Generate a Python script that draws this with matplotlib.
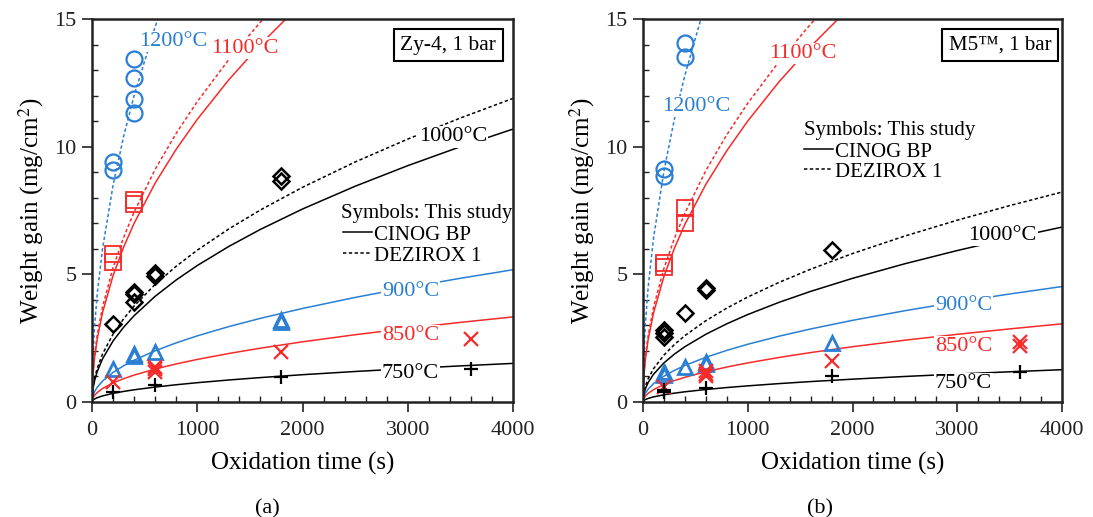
import matplotlib
matplotlib.use("Agg")
import matplotlib.pyplot as plt
from matplotlib.ticker import MultipleLocator
from matplotlib.transforms import ScaledTranslation

plt.rcParams['font.family'] = ['Liberation Serif', 'DejaVu Serif']
plt.rcParams['mathtext.fontset'] = 'stix'

BLUE = '#2a7fd4'
RED = '#f72a2a'

# ---------------- curve sample times (s) ----------------
T = [0, 10, 25, 50, 100, 200, 300, 400, 600, 800, 1000, 1300, 1600, 2000, 2500, 3000, 3500, 4000]

# ---------------- Zy-4 model curves (mg/cm2) ----------------
zy_750_cinog = [0, 0.076, 0.12, 0.169, 0.239, 0.338, 0.414, 0.478, 0.585, 0.676, 0.756, 0.862, 0.956, 1.069, 1.195, 1.309, 1.414, 1.512]
zy_850_cinog = [0, 0.167, 0.264, 0.373, 0.527, 0.745, 0.913, 1.054, 1.291, 1.491, 1.667, 1.900, 2.108, 2.357, 2.635, 2.887, 3.118, 3.333]
zy_900_cinog = [0, 0.259, 0.41, 0.579, 0.819, 1.158, 1.419, 1.638, 2.006, 2.316, 2.590, 2.953, 3.276, 3.663, 4.095, 4.486, 4.845, 5.180]
zy_1000_cinog = [0, 0.534, 0.845, 1.195, 1.69, 2.39, 2.927, 3.38, 4.14, 4.78, 5.344, 6.093, 6.76, 7.558, 8.45, 9.256, 9.998, 10.689]
zy_1000_dez = [0, 0.594, 0.94, 1.329, 1.88, 2.659, 3.256, 3.76, 4.605, 5.317, 5.945, 6.779, 7.52, 8.408, 9.4, 10.297, 11.122, 11.890]
zy_1100_cinog = [0, 1.107, 1.75, 2.475, 3.5, 4.95, 6.062, 7.0, 8.573, 9.9, 11.068, 12.62, 14.0, 15.652]
zy_1100_dez = [0, 1.176, 1.86, 2.63, 3.72, 5.261, 6.443, 7.44, 9.112, 10.522, 11.764, 13.413, 14.88, 16.636]
zy_1200_dez = [0, 1.897, 3.0, 4.243, 6.0, 8.485, 10.392, 12.0, 14.697, 16.97]

# ---------------- M5 model curves (mg/cm2) ----------------
m5_750_cinog = [0, 0.063, 0.1, 0.141, 0.2, 0.283, 0.346, 0.4, 0.49, 0.566, 0.632, 0.721, 0.8, 0.894, 1.0, 1.095, 1.183, 1.265]
m5_850_cinog = [0, 0.153, 0.242, 0.342, 0.484, 0.684, 0.838, 0.968, 1.186, 1.369, 1.531, 1.745, 1.936, 2.165, 2.42, 2.651, 2.863, 3.061]
m5_900_cinog = [0, 0.226, 0.358, 0.506, 0.715, 1.011, 1.238, 1.43, 1.751, 2.022, 2.261, 2.578, 2.86, 3.198, 3.575, 3.916, 4.23, 4.522]
m5_1000_cinog = [0, 0.342, 0.542, 0.766, 1.083, 1.532, 1.876, 2.166, 2.653, 3.063, 3.425, 3.905, 4.332, 4.843, 5.415, 5.932, 6.407, 6.85]
m5_1000_dez = [0, 0.411, 0.65, 0.919, 1.3, 1.838, 2.252, 2.6, 3.184, 3.677, 4.111, 4.687, 5.2, 5.814, 6.5, 7.12, 7.691, 8.222]
m5_1100_cinog = [0, 1.1, 1.74, 2.461, 3.48, 4.921, 6.028, 6.96, 8.524, 9.843, 11.005, 12.547, 13.92, 15.563]
m5_1100_dez = [0, 1.17, 1.85, 2.616, 3.7, 5.233, 6.409, 7.4, 9.063, 10.465, 11.7, 13.341, 14.8, 16.547]
m5_1200_dez = [0, 2.024, 3.2, 4.525, 6.4, 9.051, 11.085, 12.8, 15.677]

# ---------------- experimental points: Zy-4 ----------------
zy_1200_t = [200, 200, 400, 400, 400, 400]
zy_1200_w = [9.41, 9.09, 13.45, 12.7, 11.86, 11.3]
zy_1100_t = [200, 200, 400, 400]
zy_1100_w = [5.8, 5.5, 7.9, 7.75]
zy_1000_t = [200, 400, 400, 400, 600, 600, 1800, 1800]
zy_1000_w = [3.06, 4.32, 4.23, 3.93, 5.04, 4.93, 8.85, 8.65]
zy_900_t = [200, 400, 400, 600, 1800, 1800]
zy_900_w = [1.3, 1.8, 1.87, 1.95, 3.15, 3.22]
zy_850_t = [200, 600, 600, 600, 1800, 3600]
zy_850_w = [0.8, 1.38, 1.28, 1.19, 1.95, 2.45]
zy_750_t = [200, 600, 1800, 3600]
zy_750_w = [0.4, 0.65, 0.98, 1.3]

# ---------------- experimental points: M5 ----------------
m5_1200_t = [200, 200, 400, 400]
m5_1200_w = [9.11, 8.85, 14.05, 13.5]
m5_1100_t = [200, 200, 400, 400]
m5_1100_w = [5.45, 5.3, 7.59, 7.0]
m5_1000_t = [200, 200, 200, 400, 600, 600, 1800]
m5_1000_w = [2.82, 2.69, 2.56, 3.5, 4.39, 4.45, 5.95]
m5_900_t = [200, 200, 400, 600, 600, 1800]
m5_900_w = [1.05, 1.18, 1.38, 1.58, 1.47, 2.3]
m5_850_t = [200, 600, 600, 600, 1800, 3600, 3600]
m5_850_w = [0.6, 1.2, 1.1, 1.0, 1.6, 2.2, 2.35]
m5_750_t = [200, 200, 600, 1800, 3600]
m5_750_w = [0.47, 0.4, 0.54, 1.0, 1.18]

fig = plt.figure(figsize=(10.93, 5.17), dpi=100)
axA = fig.add_axes([92/1093, 115/517, 421/1093, 383/517])
axB = fig.add_axes([643/1093, 115/517, 419/1093, 383/517])

FS = 16
DASH = (0, (2.2, 1.6))
down = ScaledTranslation(0, -3.5/100, fig.dpi_scale_trans)


def style(ax):
    ax.set_xlim(0, 4000)
    ax.set_ylim(0, 15)
    ax.xaxis.set_major_locator(MultipleLocator(1000))
    ax.xaxis.set_minor_locator(MultipleLocator(200))
    ax.yaxis.set_major_locator(MultipleLocator(5))
    ax.yaxis.set_minor_locator(MultipleLocator(1))
    ax.tick_params(which='major', direction='out', length=7, width=1.2, labelsize=FS, colors='#222222')
    ax.tick_params(axis='x', which='major', pad=7)
    ax.tick_params(axis='y', which='major', pad=4)
    ax.tick_params(which='minor', direction='in', length=4, width=1.0, colors='#222222')
    for s in ax.spines.values():
        s.set_linewidth(1.8)
        s.set_color('#222222')
    ax.set_xlabel('Oxidation time (s)', fontsize=18, labelpad=8)
    ax.set_ylabel('Weight gain (mg/cm$^2$)', fontsize=18, labelpad=6)


def curve(ax, y, color, ls):
    ax.plot(T[:len(y)], y, color=color, lw=1.1, ls=ls, zorder=2)


def label(ax, x, y, s, color):
    ax.text(x, y, s, color=color, fontsize=FS, ha='center', va='center', zorder=3,
            transform=ax.transData + down,
            bbox=dict(boxstyle='square,pad=0.05', fc='white', ec='none'))


def txt(ax, x, y, s):
    ax.text(x, y, s, fontsize=15, ha='left', va='center', transform=ax.transData + down)


def pts(ax, t, w, marker, color, ms, mew=1.6):
    ax.plot(t, w, ls='none', marker=marker, mfc='none', mec=color, ms=ms, mew=mew, zorder=4)


for ax in (axA, axB):
    style(ax)

# ----- panel (a) -----
curve(axA, zy_750_cinog, 'black', '-')
curve(axA, zy_850_cinog, RED, '-')
curve(axA, zy_900_cinog, BLUE, '-')
curve(axA, zy_1000_cinog, 'black', '-')
curve(axA, zy_1000_dez, 'black', DASH)
curve(axA, zy_1100_cinog, RED, '-')
curve(axA, zy_1100_dez, RED, DASH)
curve(axA, zy_1200_dez, BLUE, DASH)

pts(axA, zy_1200_t, zy_1200_w, 'o', BLUE, 11.5)
pts(axA, zy_1100_t, zy_1100_w, 's', RED, 11, 1.3)
pts(axA, zy_1000_t, zy_1000_w, 'D', 'black', 8.5, 1.8)
pts(axA, zy_900_t, zy_900_w, '^', BLUE, 10.5, 2.0)
pts(axA, zy_850_t, zy_850_w, 'x', RED, 9.5, 1.6)
pts(axA, zy_750_t, zy_750_w, '+', 'black', 10.5, 1.6)

label(axA, 770, 14.25, '1200°C', BLUE)
label(axA, 1450, 14.0, '1100°C', RED)
label(axA, 3430, 10.52, '1000°C', 'black')
label(axA, 3025, 4.47, '900°C', BLUE)
label(axA, 3025, 2.75, '850°C', RED)
label(axA, 3025, 1.25, '750°C', 'black')

txt(axA, 2370, 7.52, 'Symbols: This study')
axA.plot([2386, 2662], [6.66, 6.66], color='black', lw=1.1)
txt(axA, 2680, 6.66, 'CINOG BP')
axA.plot([2386, 2662], [5.84, 5.84], color='black', lw=1.1, ls=DASH)
txt(axA, 2680, 5.84, 'DEZIROX 1')

axA.text(0.846, 0.932, 'Zy-4, 1 bar', transform=axA.transAxes, fontsize=15.5, ha='center', va='center',
         bbox=dict(boxstyle='square,pad=0.3', fc='white', ec='black', lw=1.5))

# ----- panel (b) -----
curve(axB, m5_750_cinog, 'black', '-')
curve(axB, m5_850_cinog, RED, '-')
curve(axB, m5_900_cinog, BLUE, '-')
curve(axB, m5_1000_cinog, 'black', '-')
curve(axB, m5_1000_dez, 'black', DASH)
curve(axB, m5_1100_cinog, RED, '-')
curve(axB, m5_1100_dez, RED, DASH)
curve(axB, m5_1200_dez, BLUE, DASH)

pts(axB, m5_1200_t, m5_1200_w, 'o', BLUE, 11.5)
pts(axB, m5_1100_t, m5_1100_w, 's', RED, 11, 1.3)
pts(axB, m5_1000_t, m5_1000_w, 'D', 'black', 8.5, 1.8)
pts(axB, m5_900_t, m5_900_w, '^', BLUE, 10.5, 2.0)
pts(axB, m5_850_t, m5_850_w, 'x', RED, 9.5, 1.6)
pts(axB, m5_750_t, m5_750_w, '+', 'black', 10.5, 1.6)

label(axB, 510, 11.7, '1200°C', BLUE)
label(axB, 1530, 13.8, '1100°C', RED)
label(axB, 3430, 6.66, '1000°C', 'black')
label(axB, 3060, 3.92, '900°C', BLUE)
label(axB, 3060, 2.31, '850°C', RED)
label(axB, 3060, 0.86, '750°C', 'black')

txt(axB, 1540, 10.78, 'Symbols: This study')
axB.plot([1540, 1815], [9.92, 9.92], color='black', lw=1.1)
txt(axB, 1835, 9.92, 'CINOG BP')
axB.plot([1540, 1815], [9.14, 9.14], color='black', lw=1.1, ls=DASH)
txt(axB, 1835, 9.14, 'DEZIROX 1')

axB.text(0.852, 0.932, 'M5™, 1 bar', transform=axB.transAxes, fontsize=15, ha='center', va='center',
         bbox=dict(boxstyle='square,pad=0.3', fc='white', ec='black', lw=1.5))

fig.text(267/1093, 1 - 509/517, '(a)', fontsize=FS, ha='center', va='center')
fig.text(820/1093, 1 - 509/517, '(b)', fontsize=FS, ha='center', va='center')

fig.savefig('out.png', dpi=100)
